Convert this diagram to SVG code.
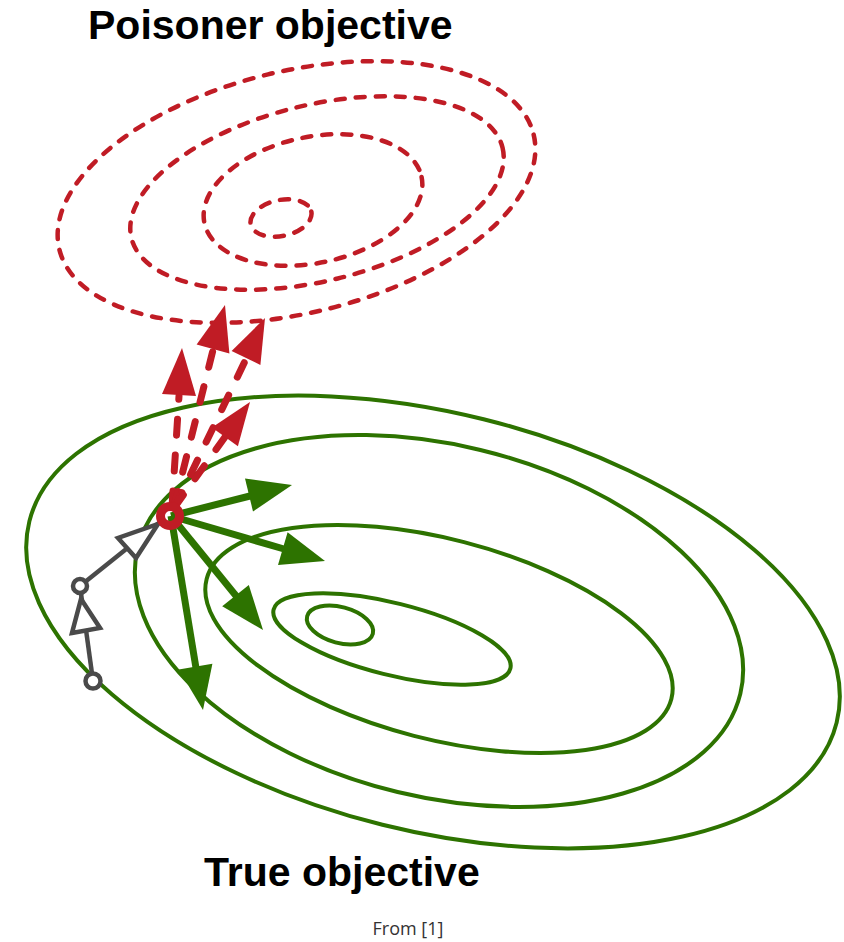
<svg xmlns="http://www.w3.org/2000/svg" width="844" height="942" viewBox="0 0 844 942">
<style>
.title{font-family:"Liberation Sans",Arial,sans-serif;font-weight:bold;font-size:41px;fill:#000}
.cap{font-family:"Open Sans","Liberation Sans",sans-serif;font-size:18px;fill:#333}
.g{fill:none;stroke:#2d7300;stroke-width:4}
.r{fill:none;stroke:#c01c25;stroke-width:4.5;stroke-dasharray:9 11;stroke-linecap:round}
.gs{stroke:#2d7300;stroke-width:7;fill:none}
.gh{fill:#2d7300}
.rs{stroke:#c01c25;stroke-width:7;stroke-dasharray:16 20;stroke-linecap:round;fill:none}
.rh{fill:#c01c25}
.k{stroke:#4a4a4a;stroke-width:4.5;fill:none}
.kh{stroke:#4a4a4a;stroke-width:4.5;fill:#fff;stroke-linejoin:miter}
</style>
<rect width="844" height="942" fill="#fff"/>
<g id="poisoner-objective">
<ellipse class="r" cx="296.5" cy="192" rx="244" ry="121" transform="rotate(-13.6 296.5 192)"/>
<ellipse class="r" cx="317" cy="193" rx="191" ry="88" transform="rotate(-13.7 317 193)"/>
<ellipse class="r" cx="313" cy="200" rx="111" ry="63" transform="rotate(-12 313 200)"/>
<ellipse class="r" cx="281" cy="218" rx="31" ry="18" transform="rotate(-12 281 218)"/>
<text class="title" x="88" y="39">Poisoner objective</text>
</g>
<g id="true-objective">
<ellipse class="g" cx="433" cy="622" rx="416" ry="209" transform="rotate(14 433 622)"/>
<ellipse class="g" cx="439" cy="621" rx="310" ry="176" transform="rotate(13.6 439 621)"/>
<ellipse class="g" cx="439" cy="639" rx="240" ry="100" transform="rotate(14.5 439 639)"/>
<ellipse class="g" cx="392" cy="639" rx="122" ry="36" transform="rotate(14 392 639)"/>
<ellipse class="g" cx="340" cy="625" rx="34" ry="18" transform="rotate(15 340 625)"/>
<text class="title" x="204" y="886">True objective</text>
</g>
<g id="connectors">
<g id="gray-path">
<line class="k" x1="93" y1="681" x2="80" y2="586"/>
<polygon class="kh" points="72,633 100,628 81,599"/>
<line class="k" x1="80" y1="586" x2="160" y2="522"/>
<polygon class="kh" points="118,538 136,558 158,524"/>
</g>
<g id="green-arrows">
<line class="gs" x1="171" y1="516" x2="250" y2="496"/>
<polygon class="gh" points="292,485 245,478.5 253,511.5"/>
<line class="gs" x1="171" y1="516" x2="284" y2="549"/>
<polygon class="gh" points="325,561 287.6,532.3 278,564.9"/>
<line class="gs" x1="171" y1="516" x2="237" y2="597"/>
<polygon class="gh" points="263,630 248.8,585 222.2,606.2"/>
<line class="gs" x1="171" y1="516" x2="196" y2="668"/>
<polygon class="gh" points="203,710 212.4,663.7 178.8,669.5"/>
</g>
<g id="red-arrows">
<line class="rs" x1="172" y1="507" x2="179" y2="396"/>
<polygon class="rh" points="182,348 162,394 196,396"/>
<line class="rs" x1="174" y1="507" x2="213" y2="350"/>
<polygon class="rh" points="225,305 196.6,344.5 229.4,353.5"/>
<line class="rs" x1="175" y1="507" x2="246" y2="359"/>
<polygon class="rh" points="265,318 231.6,351 260.4,364.9"/>
<line class="rs" x1="174" y1="508" x2="225" y2="437"/>
<polygon class="rh" points="250,402 211.9,427.6 237.9,446.2"/>
</g>
</g>
<g id="start-point">
<circle cx="93" cy="681" r="7.5" fill="#fff" stroke="#4a4a4a" stroke-width="4.5"/>
<circle cx="80" cy="586" r="7" fill="#fff" stroke="#4a4a4a" stroke-width="4.5"/>
<circle cx="170" cy="516" r="9.5" fill="none" stroke="#c01c25" stroke-width="9"/>
</g>
<text class="cap" x="408" y="935" text-anchor="middle">From [1]</text>
</svg>
